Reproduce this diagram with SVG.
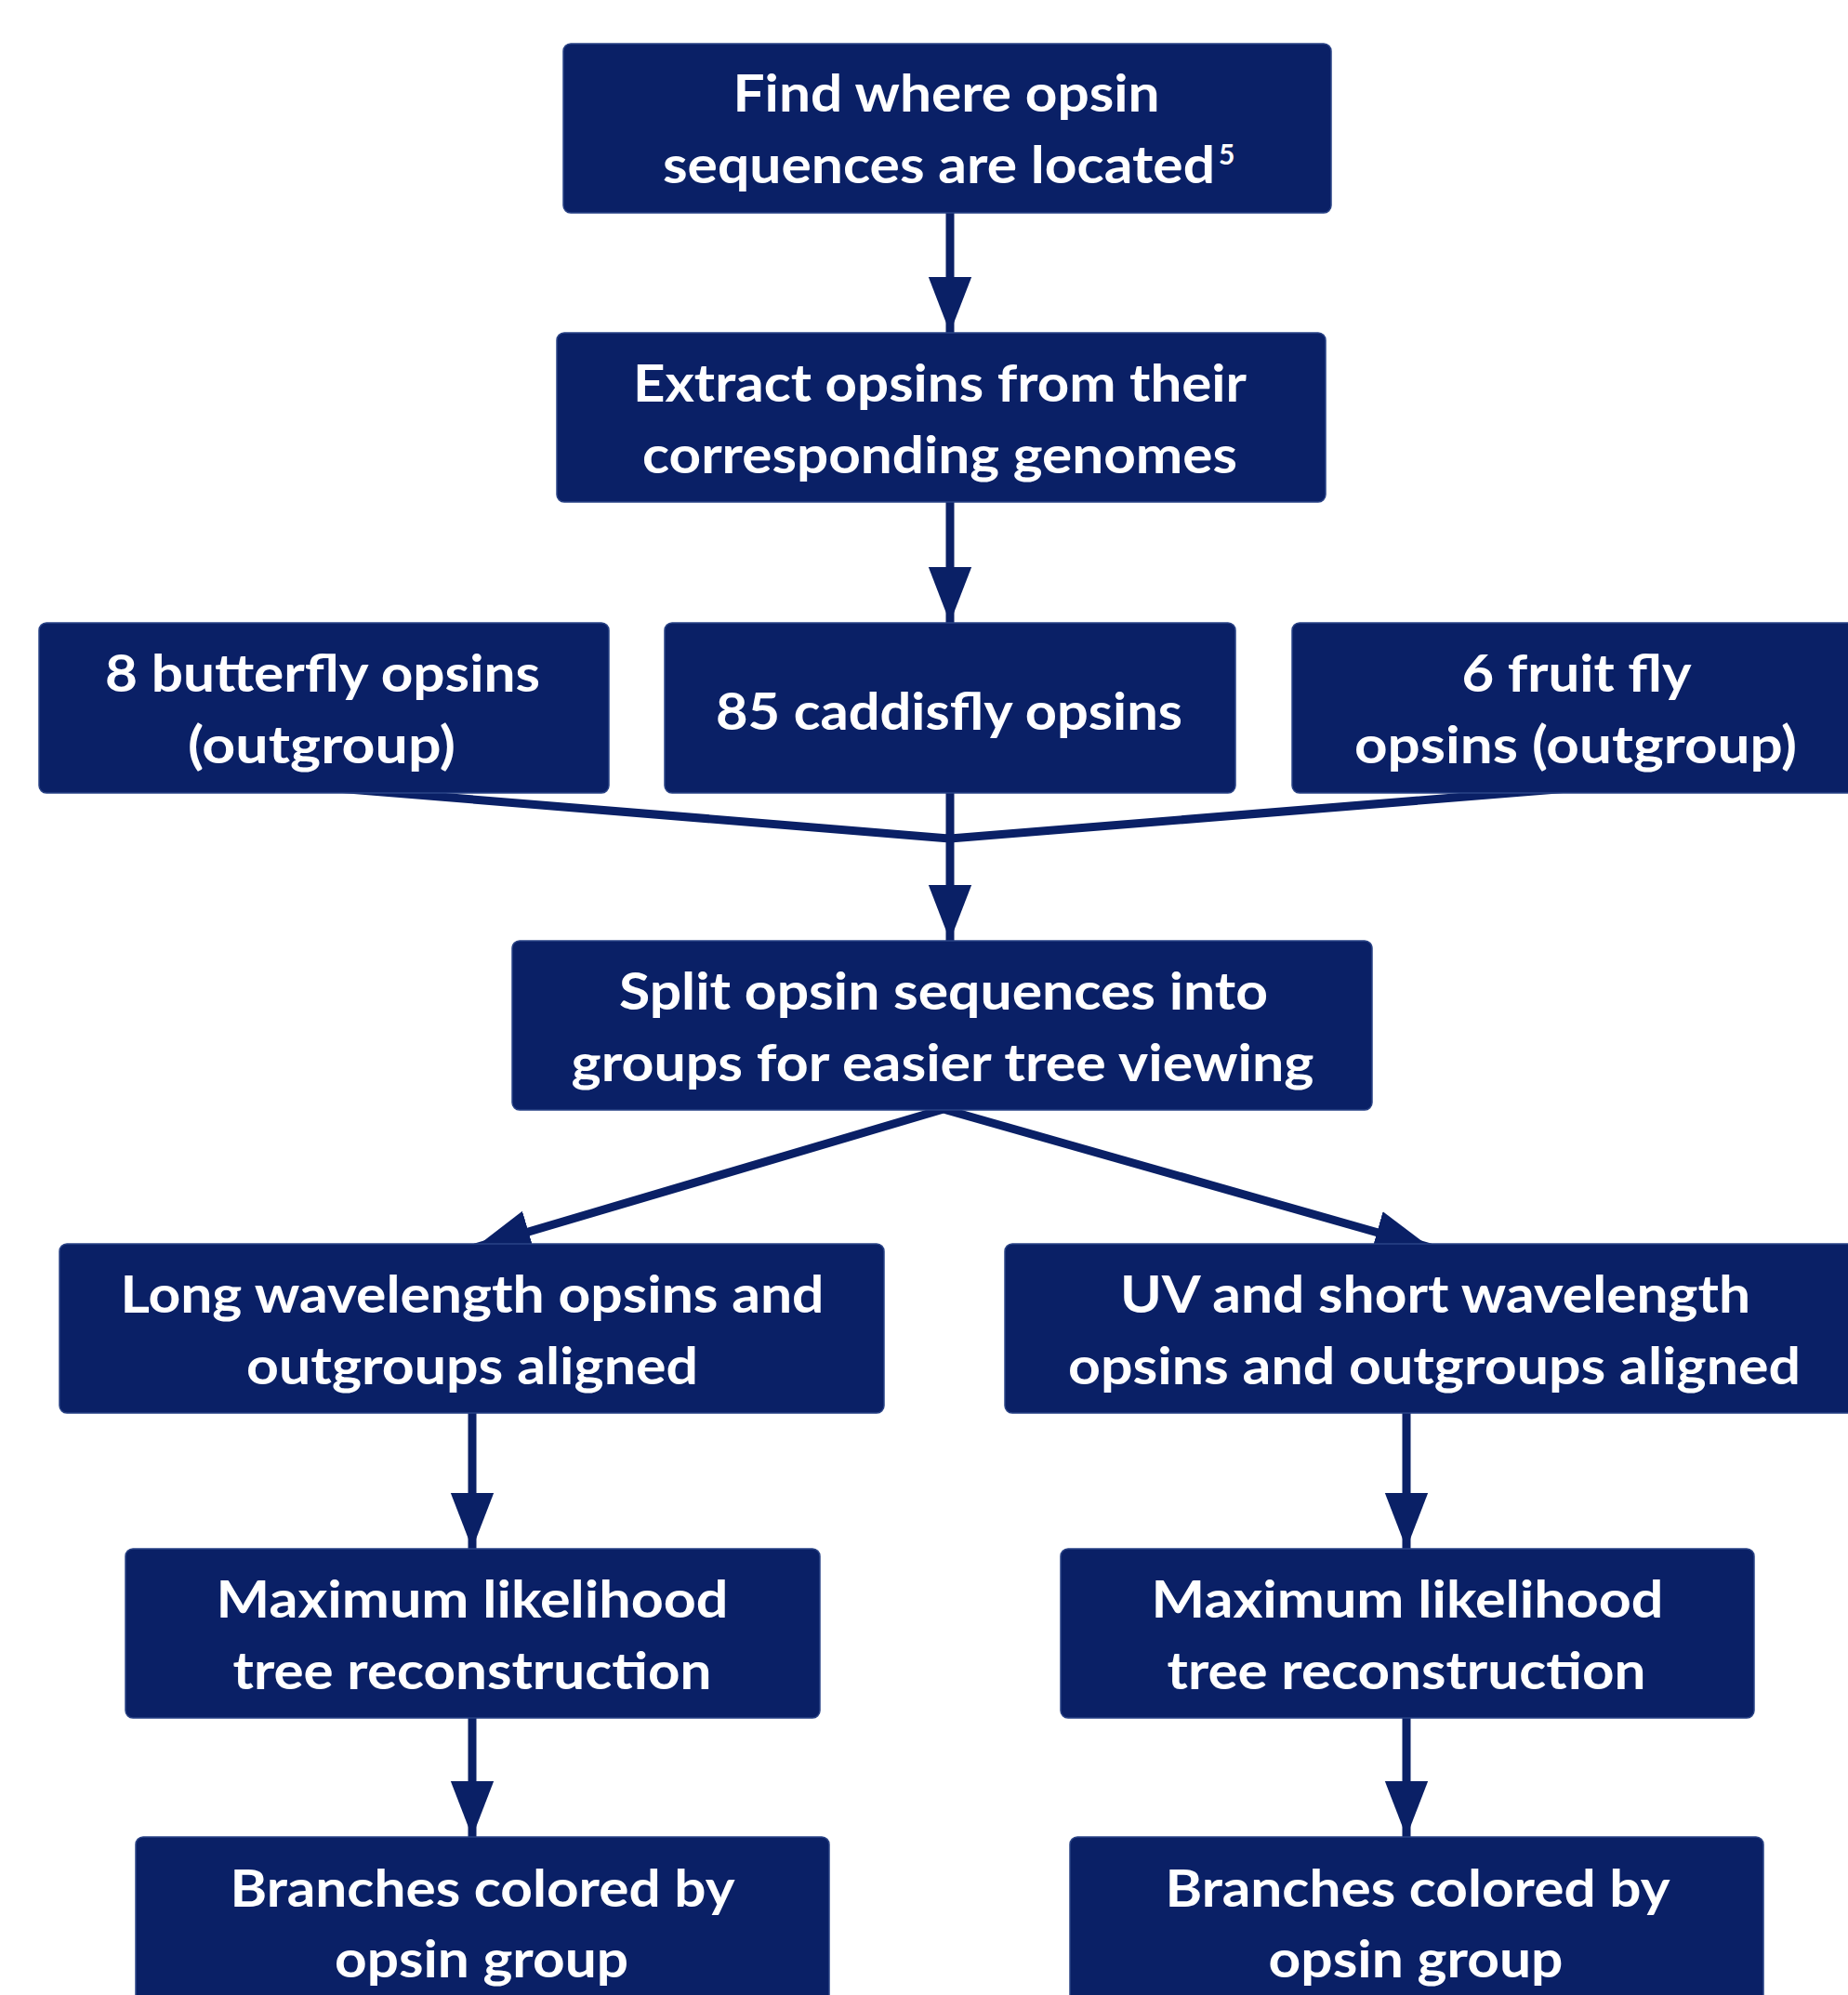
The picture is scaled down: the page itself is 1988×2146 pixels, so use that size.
<svg xmlns="http://www.w3.org/2000/svg" width="1988" height="2146" viewBox="0 0 1988 2146">
<style>
.box{fill:#0a2066;stroke:#2a4386;stroke-width:1.5}
.t{fill:#ffffff;font-family:Lato,"Open Sans","Liberation Sans",sans-serif;font-weight:700;font-size:56px;text-anchor:middle}
.sup{fill:#ffffff;font-family:Lato,"Open Sans","Liberation Sans",sans-serif;font-weight:700;font-size:30px}
.c{stroke:#0a2066;stroke-width:9;fill:none}
</style>
<defs>
<marker id="ah" markerUnits="userSpaceOnUse" markerWidth="60" markerHeight="50" viewBox="0 0 57 44" refX="57" refY="22" orient="auto">
<path d="M0,0 L57,22 L0,44 Z" fill="#0a2066"/>
</marker>
</defs>
<rect width="1988" height="2146" fill="#ffffff"/>
<g id="connectors">
<line class="c" x1="1022" y1="229" x2="1022" y2="358" marker-end="url(#ah)"/>
<line class="c" x1="1022" y1="540" x2="1022" y2="670" marker-end="url(#ah)"/>
<line class="c" x1="350" y1="847" x2="1022" y2="902"/>
<line class="c" x1="1700" y1="847" x2="1022" y2="902"/>
<line class="c" x1="1022" y1="853" x2="1022" y2="1012" marker-end="url(#ah)"/>
<line class="c" x1="1015" y1="1193" x2="511" y2="1342" marker-end="url(#ah)"/>
<line class="c" x1="1015" y1="1193" x2="1539" y2="1342" marker-end="url(#ah)"/>
<line class="c" x1="508" y1="1520" x2="508" y2="1666" marker-end="url(#ah)"/>
<line class="c" x1="508" y1="1848" x2="508" y2="1976" marker-end="url(#ah)"/>
<line class="c" x1="1513" y1="1520" x2="1513" y2="1666" marker-end="url(#ah)"/>
<line class="c" x1="1513" y1="1848" x2="1513" y2="1976" marker-end="url(#ah)"/>
</g>
<g id="find">
<rect class="box" x="606" y="47" width="826" height="182" rx="8"/>
<text class="t" x="1018" y="120" textLength="459" lengthAdjust="spacingAndGlyphs">Find where opsin</text>
<text class="t" x="1010" y="197" textLength="594" lengthAdjust="spacingAndGlyphs">sequences are located</text>
<text class="sup" x="1311" y="177">5</text>
</g>
<g id="extract">
<rect class="box" x="599" y="358" width="827" height="182" rx="8"/>
<text class="t" x="1011" y="432" textLength="660" lengthAdjust="spacingAndGlyphs">Extract opsins from their</text>
<text class="t" x="1011" y="509" textLength="640" lengthAdjust="spacingAndGlyphs">corresponding genomes</text>
</g>
<g id="butterfly">
<rect class="box" x="42" y="670" width="613" height="183" rx="8"/>
<text class="t" x="347" y="744" textLength="468" lengthAdjust="spacingAndGlyphs">8 butterfly opsins</text>
<text class="t" x="346" y="821" textLength="288" lengthAdjust="spacingAndGlyphs">(outgroup)</text>
</g>
<g id="caddisfly">
<rect class="box" x="715" y="670" width="614" height="183" rx="8"/>
<text class="t" x="1021" y="785" textLength="502" lengthAdjust="spacingAndGlyphs">85 caddisfly opsins</text>
</g>
<g id="fruitfly">
<rect class="box" x="1390" y="670" width="620" height="183" rx="8"/>
<text class="t" x="1696" y="744" textLength="247" lengthAdjust="spacingAndGlyphs">6 fruit fly</text>
<text class="t" x="1695" y="821" textLength="476" lengthAdjust="spacingAndGlyphs">opsins (outgroup)</text>
</g>
<g id="split">
<rect class="box" x="551" y="1012" width="925" height="182" rx="8"/>
<text class="t" x="1015" y="1086" textLength="698" lengthAdjust="spacingAndGlyphs">Split opsin sequences into</text>
<text class="t" x="1014" y="1163" textLength="799" lengthAdjust="spacingAndGlyphs">groups for easier tree viewing</text>
</g>
<g id="long">
<rect class="box" x="64" y="1338" width="887" height="182" rx="8"/>
<text class="t" x="508" y="1412" textLength="757" lengthAdjust="spacingAndGlyphs">Long wavelength opsins and</text>
<text class="t" x="508" y="1489" textLength="486" lengthAdjust="spacingAndGlyphs">outgroups aligned</text>
</g>
<g id="uv">
<rect class="box" x="1081" y="1338" width="930" height="182" rx="8"/>
<text class="t" x="1544" y="1412" textLength="678" lengthAdjust="spacingAndGlyphs">UV and short wavelength</text>
<text class="t" x="1543" y="1489" textLength="788" lengthAdjust="spacingAndGlyphs">opsins and outgroups aligned</text>
</g>
<g id="ml-left">
<rect class="box" x="135" y="1666" width="747" height="182" rx="8"/>
<text class="t" x="508" y="1740" textLength="551" lengthAdjust="spacingAndGlyphs">Maximum likelihood</text>
<text class="t" x="508" y="1817" textLength="515" lengthAdjust="spacingAndGlyphs">tree reconstruction</text>
</g>
<g id="ml-right">
<rect class="box" x="1141" y="1666" width="746" height="182" rx="8"/>
<text class="t" x="1514" y="1740" textLength="551" lengthAdjust="spacingAndGlyphs">Maximum likelihood</text>
<text class="t" x="1513" y="1817" textLength="515" lengthAdjust="spacingAndGlyphs">tree reconstruction</text>
</g>
<g id="branches-left">
<rect class="box" x="146" y="1976" width="746" height="200" rx="8"/>
<text class="t" x="519" y="2051" textLength="543" lengthAdjust="spacingAndGlyphs">Branches colored by</text>
<text class="t" x="518" y="2127" textLength="316" lengthAdjust="spacingAndGlyphs">opsin group</text>
</g>
<g id="branches-right">
<rect class="box" x="1151" y="1976" width="746" height="200" rx="8"/>
<text class="t" x="1525" y="2051" textLength="543" lengthAdjust="spacingAndGlyphs">Branches colored by</text>
<text class="t" x="1523" y="2127" textLength="317" lengthAdjust="spacingAndGlyphs">opsin group</text>
</g>
</svg>
